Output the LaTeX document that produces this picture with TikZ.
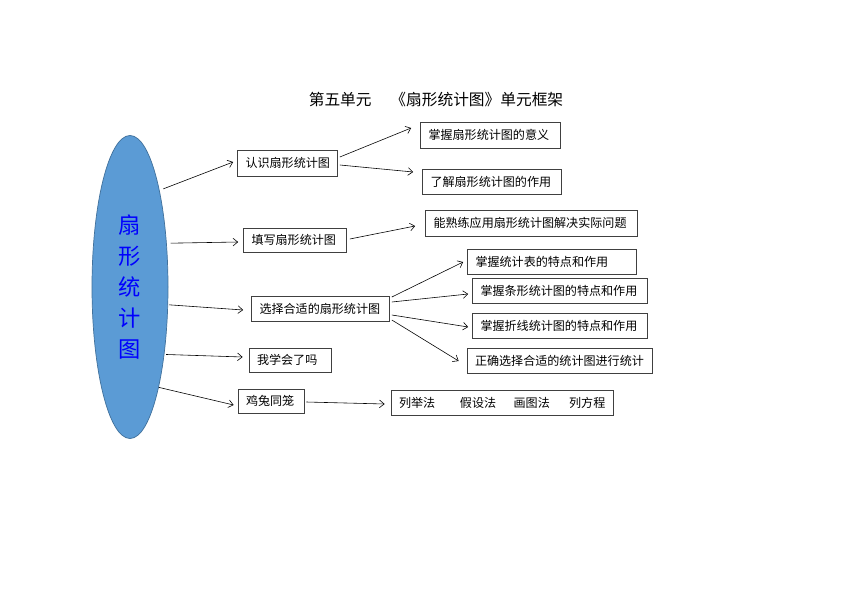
\documentclass[tikz,border=0pt]{standalone}
\usepackage{fontspec}
\setmainfont{Noto Sans CJK SC}
\usetikzlibrary{shapes.geometric,arrows.meta}
\definecolor{corefill}{HTML}{5B9BD5}
\definecolor{coreedge}{HTML}{41719C}
\tikzset{
  box/.style={draw=black!75, line width=0.6pt, inner xsep=0.24cm, inner ysep=0pt,
    minimum height=0.75cm, align=left, font=\fontsize{10.3}{12}\selectfont},
  arr/.style={->, >={Straight Barb[length=4pt,width=6.5pt]}, line width=0.5pt},
}
\begin{document}
\begin{tikzpicture}[x=0.03cm, y=-0.03cm]
  \useasboundingbox (0,0) rectangle (842,595);

  % title
  \node[font=\fontsize{13.4}{16}\selectfont] (title) at (436,100)
    {第五单元\hspace{1.2em}《扇形统计图》单元框架};

  % core ellipse
  \node[ellipse, draw=coreedge, fill=corefill, line width=0.6pt, minimum width=2.28cm,
    minimum height=9.09cm, inner sep=0pt, align=center, text=blue,
    font=\fontsize{19}{26.4}\selectfont] (core) at (130,287) {扇\\形\\统\\计\\图};

  % first level
  \node[box, text width=2.52cm, minimum height=0.78cm] (know) at (287.5,163) {认识扇形统计图};
  \node[box, text width=2.61cm, minimum height=0.72cm] (fill) at (295,240) {填写扇形统计图};
  \node[box, text width=3.66cm] (choose) at (320.5,308.5) {选择合适的扇形统计图};
  \node[box, text width=1.98cm, minimum height=0.72cm] (review) at (290,360) {我学会了吗};
  \node[box, text width=1.50cm, minimum height=0.72cm] (chick) at (271,401) {鸡兔同笼};

  % second level
  \node[box, text width=3.72cm, minimum height=0.78cm] (meaning) at (490.5,135) {掌握扇形统计图的意义};
  \node[box, text width=3.69cm] (use) at (492,181.5) {了解扇形统计图的作用};
  \node[box, text width=5.88cm, minimum height=0.78cm] (apply) at (531.5,223) {能熟练应用扇形统计图解决实际问题};
  \node[box, text width=4.59cm] (table) at (552,261.5) {掌握统计表的特点和作用};
  \node[box, text width=4.77cm] (bar) at (560,290.5) {掌握条形统计图的特点和作用};
  \node[box, text width=4.77cm] (line) at (560,325.5) {掌握折线统计图的特点和作用};
  \node[box, text width=5.07cm] (select) at (559.5,360.5) {正确选择合适的统计图进行统计};
  \node[box, text width=6.18cm] (methods) at (502,402.5)
    {\mbox{列举法\hspace{2.05em}假设法\hspace{1.45em}画图法\hspace{1.6em}列方程}};

  % core -> first level
  \draw[arr, shorten <=0.12cm] (core.73) -- ([shift={(-4,-1)}]know.west);
  \draw[arr, shorten <=0.12cm] (core.50) -- ([shift={(-5,2)}]fill.west);
  \draw[arr, shorten <=0.03cm] (core.-25) -- ([shift={(-8,1.5)}]choose.west);
  \draw[arr, shorten <=0.05cm] (core.-63) -- ([shift={(-6,-3)}]review.west);
  \draw[arr] (core.-74) -- ([shift={(-4,4)}]chick.west);

  % first level -> second level
  \draw[arr] ([shift={(2,-6)}]know.east) -- ([shift={(-9,-7)}]meaning.west);
  \draw[arr] ([shift={(2,2)}]know.east) -- ([shift={(-9,-9.5)}]use.west);
  \draw[arr] ([shift={(3,-1)}]fill.east) -- ([shift={(-10,3)}]apply.west);
  \draw[arr] ([shift={(2,-11.5)}]choose.east) -- ([shift={(-4,0.5)}]table.west);
  \draw[arr] ([shift={(2,-6.5)}]choose.east) -- ([shift={(-4,3.5)}]bar.west);
  \draw[arr] ([shift={(2,6.5)}]choose.east) -- ([shift={(-4,1.5)}]line.west);
  \draw[arr] ([shift={(2,11.5)}]choose.east) -- ([shift={(-8,0.5)}]select.west);
  \draw[arr] ([shift={(2,1)}]chick.east) -- ([shift={(-6,1.5)}]methods.west);
\end{tikzpicture}
\end{document}
